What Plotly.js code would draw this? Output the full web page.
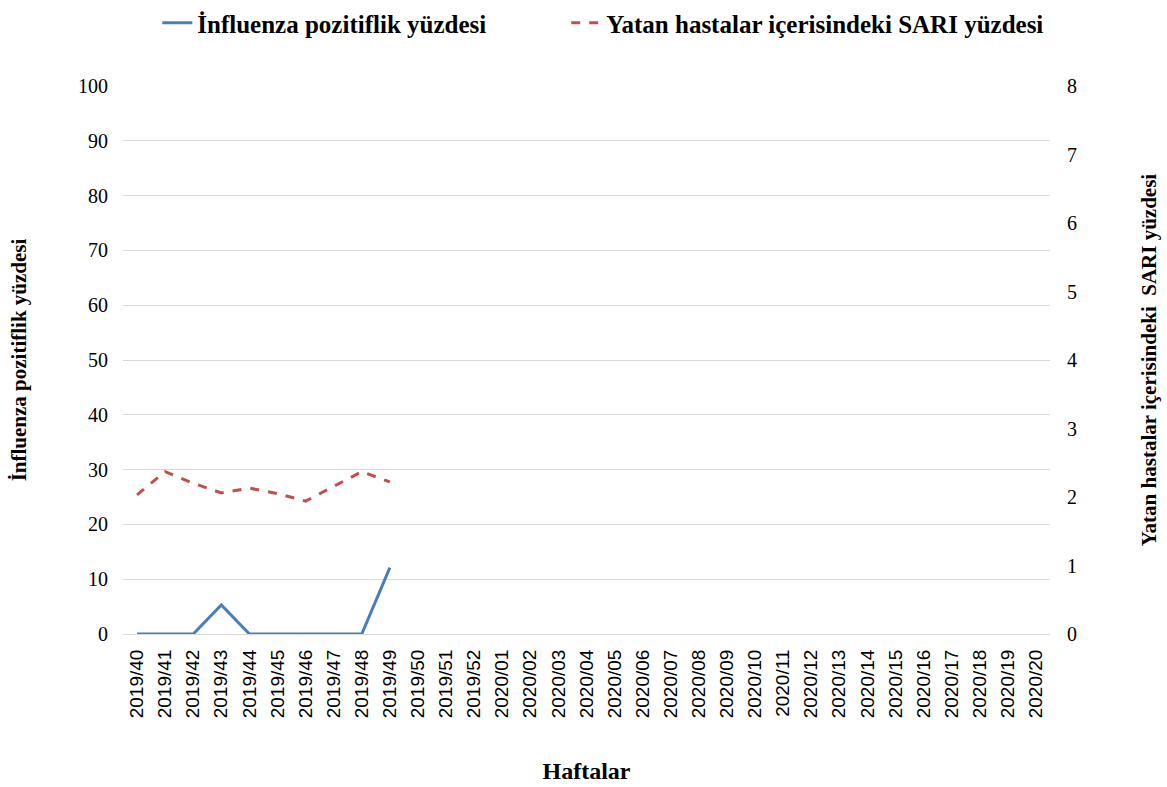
<!DOCTYPE html>
<html><head><meta charset="utf-8">
<script src="https://cdn.plot.ly/plotly-3.0.1.min.js"></script>
<style>body{margin:0;background:#fff}#c{width:1167px;height:787px}</style>
</head><body><div id="c"></div>
<script>
const weeks = ["2019/40","2019/41","2019/42","2019/43","2019/44","2019/45","2019/46","2019/47","2019/48","2019/49","2019/50","2019/51","2019/52",
"2020/01","2020/02","2020/03","2020/04","2020/05","2020/06","2020/07","2020/08","2020/09","2020/10","2020/11","2020/12","2020/13","2020/14","2020/15","2020/16","2020/17","2020/18","2020/19","2020/20"];
const influenzaPositivity = [0,0,0,5.3,0,0,0,0,0,12.1];
const sariPercent = [2.03,2.37,2.2,2.06,2.13,2.05,1.94,2.15,2.37,2.22];
const seriesNames = ["İnfluenza pozitiflik yüzdesi","Yatan hastalar içerisindeki SARI yüzdesi"];

const serif = 'Liberation Serif, Times New Roman, serif';
const pad = '\u00a0'.repeat(12);
const traces = [
 {x: weeks.slice(0,influenzaPositivity.length), y: influenzaPositivity, name: '<b>'+seriesNames[0]+'</b>'+pad, type:'scatter', mode:'lines',
  line:{color:'#4a7ebb', width:3}, yaxis:'y'},
 {x: weeks.slice(0,sariPercent.length), y: sariPercent, name: '<b>'+seriesNames[1]+'</b>', type:'scatter', mode:'lines',
  line:{color:'#c0504d', width:3, dash:'dash'}, yaxis:'y2'}
];
const layout = {
 width:1167, height:787,
 margin:{l:123, r:117, t:86, b:153, autoexpand:false},
 paper_bgcolor:'#fff', plot_bgcolor:'#fff',
 showlegend:true,
 legend:{orientation:'h', x:0.037, xanchor:'left', y:1.0, yref:'container', yanchor:'top',
   font:{family:serif, size:25, color:'#000'}, traceorder:'normal'},
 xaxis:{type:'category', categoryorder:'array', categoryarray:weeks, tickvals:weeks, ticktext:weeks, range:[-0.5, weeks.length-0.5],
   tickangle:-90, tickfont:{family:'Liberation Sans, Arial, sans-serif', size:19, color:'#000'}, ticklabelstandoff:7,
   showgrid:false, showline:true, linecolor:'#d9d9d9', linewidth:1, ticks:'', zeroline:false,
   title:{text:'<b>Haftalar</b>', font:{family:serif, size:24, color:'#000'}, standoff:44}},
 yaxis:{range:[0,100], dtick:10, showgrid:true, gridcolor:'#d9d9d9', gridwidth:1, zeroline:false, showline:false, ticks:'',
   tickfont:{family:serif, size:20, color:'#000'}, ticklabelstandoff:14,
   title:{text:'<b>İnfluenza pozitiflik yüzdesi</b>', font:{family:serif, size:21, color:'#000'}, standoff:45}},
 yaxis2:{range:[0,8], dtick:1, overlaying:'y', side:'right', showgrid:false, zeroline:false, showline:false, ticks:'',
   tickfont:{family:serif, size:20, color:'#000'}, ticklabelstandoff:16,
   title:{text:'<b>Yatan hastalar içerisindeki  SARI yüzdesi</b>', font:{family:serif, size:21, color:'#000'}, standoff:65}}
};
Plotly.newPlot('c', traces, layout, {displayModeBar:false});
</script></body></html>
